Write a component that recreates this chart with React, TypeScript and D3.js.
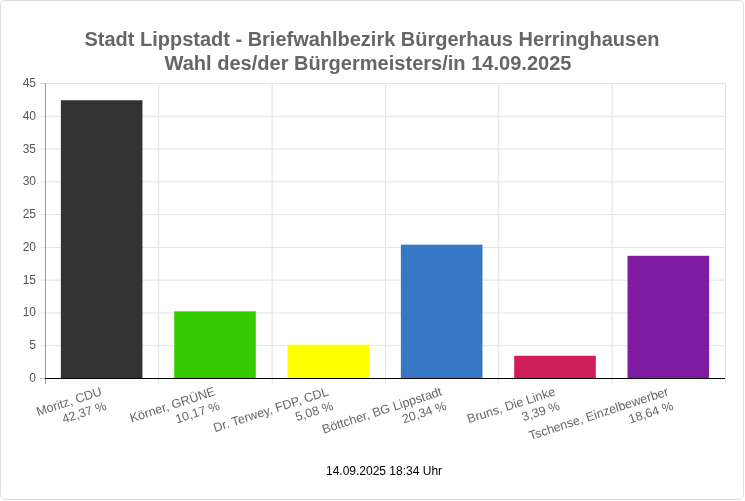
// Bar chart: Bürgermeisterwahl Lippstadt, Briefwahlbezirk Bürgerhaus Herringhausen

import React, { useEffect, useRef } from "react"
import * as d3 from "d3"

const candidates = [
  "Moritz, CDU",
  "Körner, GRÜNE",
  "Dr. Terwey, FDP, CDL",
  "Böttcher, BG Lippstadt",
  "Bruns, Die Linke",
  "Tschense, Einzelbewerber",
]
const percentLabels = ["42,37 %", "10,17 %", "5,08 %", "20,34 %", "3,39 %", "18,64 %"]
const votes = [42.37, 10.17, 5.08, 20.34, 3.39, 18.64]
const barColors = ["#333333", "#33cc00", "#ffff00", "#3778c4", "#cf1d5b", "#7e1ba1"]
const yTicks = [0, 5, 10, 15, 20, 25, 30, 35, 40, 45]
const titleLines = [
  "Stadt Lippstadt - Briefwahlbezirk Bürgerhaus Herringhausen",
  "Wahl des/der Bürgermeisters/in 14.09.2025",
]
const footer = "14.09.2025 18:34 Uhr"

function App() {
  const ref = useRef<SVGSVGElement>(null)

  useEffect(() => {
    const svg = d3.select(ref.current)
    svg.selectAll("*").remove()

    const W = 745, H = 501
    const margin = { top: 83, right: 20, bottom: 123, left: 45 }
    const width = W - margin.left - margin.right
    const height = H - margin.top - margin.bottom
    const font = "'Liberation Sans', Arial, sans-serif"

    svg.append("rect")
      .attr("x", 0.5).attr("y", 0.5)
      .attr("width", W - 2).attr("height", H - 2)
      .attr("rx", 5)
      .attr("fill", "#fff").attr("stroke", "#dcdcdc")

    // title
    const titleWidths = [575, 407]
    titleLines.forEach((t, i) => {
      svg.append("text")
        .attr("x", 372 - (i ? 4 : 0)).attr("y", 46 + i * 24)
        .attr("text-anchor", "middle")
        .attr("font-family", "'Liberation Sans Narrow', 'Arial Narrow', " + font)
        .attr("font-weight", "bold")
        .attr("font-size", 20)
        .attr("fill", "#666")
        .attr("textLength", titleWidths[i])
        .attr("lengthAdjust", "spacingAndGlyphs")
        .text(t)
    })

    const g = svg.append("g").attr("transform", `translate(${margin.left},${margin.top})`)

    const x = d3.scaleBand().domain(candidates).range([0, width]).padding(0)
    const y = d3.scaleLinear().domain([0, 45]).range([height, 0])

    // horizontal grid + left ticks
    yTicks.forEach(t => {
      g.append("line")
        .attr("x1", -5).attr("x2", width)
        .attr("y1", y(t) + 0.5).attr("y2", y(t) + 0.5)
        .attr("stroke", t === 0 ? "#bbb" : "#e2e2e2")
      g.append("text")
        .attr("x", -9).attr("y", y(t) + 4)
        .attr("text-anchor", "end")
        .attr("font-family", font).attr("font-size", 12)
        .attr("fill", "#555")
        .text(t)
    })

    // vertical grid
    const bounds = candidates.map(c => x(c)!).concat([width])
    bounds.forEach(b => {
      g.append("line")
        .attr("x1", b + 0.5).attr("x2", b + 0.5)
        .attr("y1", 0).attr("y2", height + 6)
        .attr("stroke", "#e2e2e2")
    })

    // left axis line
    g.append("line")
      .attr("x1", 0.5).attr("x2", 0.5).attr("y1", 0).attr("y2", height + 6)
      .attr("stroke", "#999")

    // bars
    const barW = x.bandwidth() * 0.72
    g.selectAll(".bar")
      .data(candidates)
      .enter()
      .append("rect")
      .attr("x", d => x(d)! + (x.bandwidth() - barW) / 2)
      .attr("y", (d, i) => y(votes[i]))
      .attr("width", barW)
      .attr("height", (d, i) => height - y(votes[i]))
      .attr("fill", (d, i) => barColors[i])

    // bottom axis line
    g.append("line")
      .attr("x1", 0).attr("x2", width)
      .attr("y1", height + 0.5).attr("y2", height + 0.5)
      .attr("stroke", "#000")

    // rotated x labels, right aligned at the category centre
    candidates.forEach((c, i) => {
      const lg = g.append("g")
        .attr("transform", `translate(${x(c)! + x.bandwidth() / 2 + 1},${height + 17}) rotate(-18)`)
      lg.append("text")
        .attr("font-family", font).attr("font-size", 12.5).attr("fill", "#666")
        .attr("text-anchor", "end")
        .text(c)
      lg.append("text")
        .attr("font-family", font).attr("font-size", 12.5).attr("fill", "#666")
        .attr("text-anchor", "end")
        .attr("y", 15)
        .text(percentLabels[i])
    })

    svg.append("text")
      .attr("x", 384).attr("y", 475)
      .attr("text-anchor", "middle")
      .attr("font-family", font).attr("font-size", 12)
      .attr("fill", "#000")
      .text(footer)
  }, [])

  return (
    <div style={{ position: "fixed", left: 0, top: 0 }}>
      <svg ref={ref} width={745} height={501} style={{ display: "block" }}></svg>
    </div>
  )
}

export default App
